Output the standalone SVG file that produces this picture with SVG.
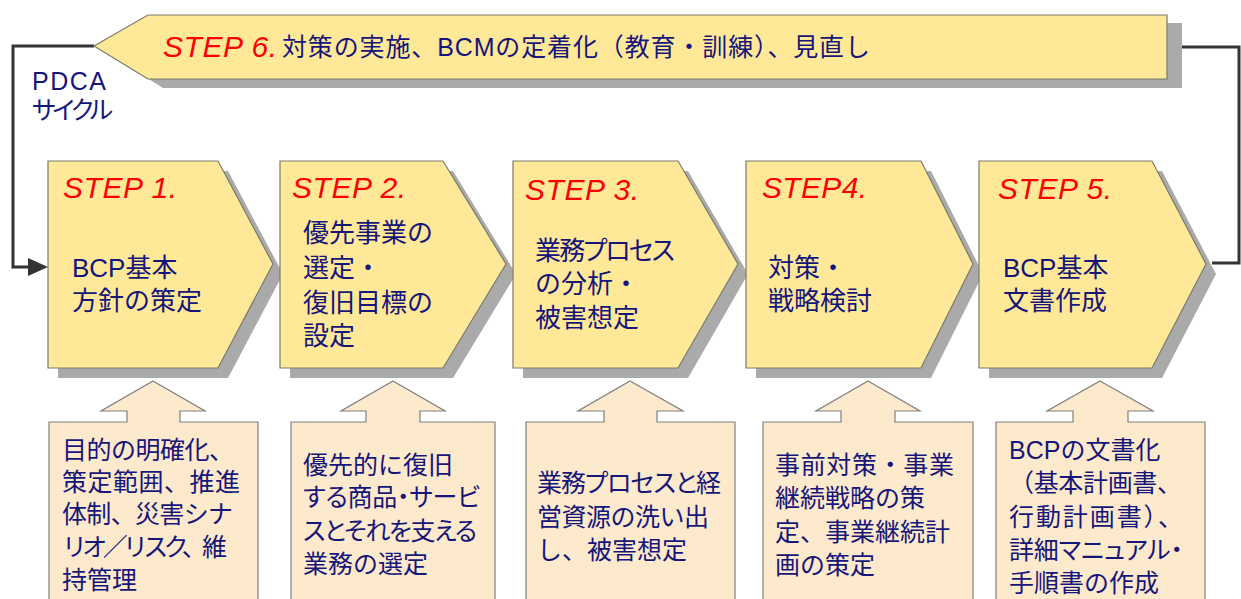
<svg xmlns="http://www.w3.org/2000/svg" width="1241" height="599" viewBox="0 0 1241 599">
<defs>
<style>
.step{fill:#FFE897;stroke:#7a7a6a;stroke-width:1.2}
.shadow{fill:#AAAAAA}
.box{fill:#FDE9CC;stroke:#808080;stroke-width:1.2}
.lbl{font-family:"Liberation Sans",Arial,sans-serif;font-style:italic;font-size:30px;fill:#FF0000}
.t{font-family:"Liberation Sans","Noto Sans CJK JP",sans-serif;font-size:26px;fill:#16167a}
.b{font-family:"Liberation Sans","Noto Sans CJK JP",sans-serif;font-size:25px;fill:#16167a}
.p{font-feature-settings:"palt"}
.loop{fill:none;stroke:#333333;stroke-width:3}
</style>
</defs>
<rect width="1241" height="599" fill="#FFFFFF"/>

<g id="connectors">
<polyline class="loop" points="1182,47 1239,47 1239,263 1212,263"/>
<polyline class="loop" points="94,46 13,46 13,267 30,267"/>
<path d="M28,258 L48,267 L28,276 Z" fill="#333333"/>
</g>

<g id="step6">
<polygon class="shadow" points="109,54 163,23 1182,23 1182,88 163,88"/>
<polygon class="step" points="94,46 148,15 1167,15 1167,79 148,79"/>
<text class="lbl" x="163" y="57" textLength="114">STEP 6.</text>
<text class="b" x="282" y="56" textLength="588">対策の実施、BCMの定着化（教育・訓練）、見直し</text>
</g>

<g id="pdca">
<text class="b" x="32" y="90" textLength="74">PDCA</text>
<text class="b p" x="32" y="119" textLength="81">サイクル</text>
</g>

<g id="step1">
<polygon class="shadow" points="58,171 228,171 283,274 228,378 58,378"/>
<polygon class="step" points="48,161 218,161 273,264 218,368 48,368"/>
<text class="lbl" x="63" y="198" textLength="114">STEP 1.</text>
<text class="t" x="72" y="277">BCP基本</text>
<text class="t" x="72" y="310">方針の策定</text>
</g>

<g id="step2">
<polygon class="shadow" points="290,171 453,171 516,274 453,378 290,378"/>
<polygon class="step" points="280,161 443,161 506,264 443,368 280,368"/>
<text class="lbl" x="292" y="198" textLength="114">STEP 2.</text>
<text class="t" x="303" y="242">優先事業の</text>
<text class="t" x="303" y="277">選定・</text>
<text class="t" x="303" y="312">復旧目標の</text>
<text class="t" x="303" y="345">設定</text>
</g>

<g id="step3">
<polygon class="shadow" points="523,171 688,171 748,274 688,378 523,378"/>
<polygon class="step" points="513,161 678,161 738,264 678,368 513,368"/>
<text class="lbl" x="525" y="200" textLength="114">STEP 3.</text>
<text class="t p" x="535" y="260" textLength="140">業務プロセス</text>
<text class="t" x="535" y="293">の分析・</text>
<text class="t" x="535" y="327">被害想定</text>
</g>

<g id="step4">
<polygon class="shadow" points="756,171 931,171 983,274 931,378 756,378"/>
<polygon class="step" points="746,161 921,161 973,264 921,368 746,368"/>
<text class="lbl" x="762" y="198" textLength="105">STEP4.</text>
<text class="t" x="768" y="277">対策・</text>
<text class="t" x="768" y="310">戦略検討</text>
</g>

<g id="step5">
<polygon class="shadow" points="989,171 1162,171 1216,274 1162,378 989,378"/>
<polygon class="step" points="979,161 1152,161 1206,264 1152,368 979,368"/>
<text class="lbl" x="998" y="199" textLength="114">STEP 5.</text>
<text class="t" x="1003" y="277">BCP基本</text>
<text class="t" x="1003" y="310">文書作成</text>
</g>

<g id="detail1">
<polygon class="box" points="153,381 205,411 180,411 180,422 258,422 258,610 49,610 49,422 127,422 127,411 101,411"/>
<text class="b" x="62" y="459" textLength="172">目的の明確化、</text>
<text class="b" x="62" y="491" textLength="178">策定範囲、推進</text>
<text class="b" x="62" y="523" textLength="171">体制、災害シナ</text>
<text class="b" x="62" y="556" textLength="165">リオ／リスク、維</text>
<text class="b" x="62" y="589">持管理</text>
</g>

<g id="detail2">
<polygon class="box" points="393,381 445,411 420,411 420,422 495,422 495,610 291,610 291,422 366,422 366,411 341,411"/>
<text class="b" x="303" y="474">優先的に復旧</text>
<text class="b p" x="303" y="506" textLength="177">する商品・サービ</text>
<text class="b p" x="303" y="540" textLength="174">スとそれを支える</text>
<text class="b" x="303" y="573">業務の選定</text>
</g>

<g id="detail3">
<polygon class="box" points="630,381 683,411 657,411 657,422 735,422 735,610 526,610 526,422 604,422 604,411 578,411"/>
<text class="b p" x="537" y="492" textLength="184">業務プロセスと経</text>
<text class="b" x="537" y="526" textLength="172">営資源の洗い出</text>
<text class="b" x="537" y="559">し、被害想定</text>
</g>

<g id="detail4">
<polygon class="box" points="868,381 920,411 895,411 895,422 973,422 973,610 763,610 763,422 841,422 841,411 816,411"/>
<text class="b" x="775" y="474" textLength="179">事前対策・事業</text>
<text class="b" x="775" y="507">継続戦略の策</text>
<text class="b" x="775" y="541">定、事業継続計</text>
<text class="b" x="775" y="574">画の策定</text>
</g>

<g id="detail5">
<polygon class="box" points="1100,381 1153,411 1128,411 1128,422 1205,422 1205,610 996,610 996,422 1073,422 1073,411 1047,411"/>
<text class="b" x="1009" y="459">BCPの文書化</text>
<text class="b" x="1009" y="492" textLength="173">（基本計画書、</text>
<text class="b" x="1009" y="526" textLength="174">行動計画書）、</text>
<text class="b p" x="1009" y="559" textLength="174">詳細マニュアル・</text>
<text class="b" x="1009" y="592">手順書の作成</text>
</g>
</svg>
